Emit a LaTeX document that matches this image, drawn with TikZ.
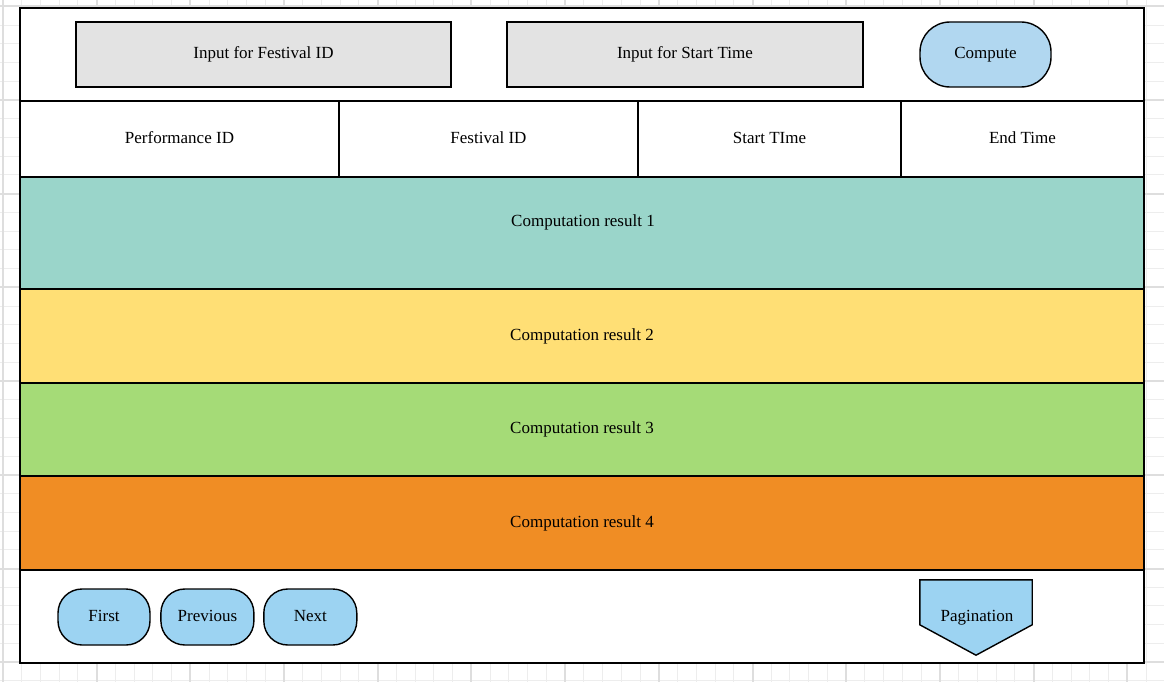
\documentclass[tikz,border=0pt]{standalone}
\usepackage{fontspec}
\setmainfont{Liberation Serif}
\usetikzlibrary{calc, positioning}
\definecolor{gridMinor}{HTML}{EDEDED}
\definecolor{gridMajor}{HTML}{DEDEDE}
\definecolor{inputGray}{HTML}{E3E3E3}
\definecolor{computeBlue}{HTML}{B1D7F0}
\definecolor{buttonBlue}{HTML}{9CD3F2}
\definecolor{rowTeal}{HTML}{9AD5CA}
\definecolor{rowYellow}{HTML}{FFDF75}
\definecolor{rowGreen}{HTML}{A5DB77}
\definecolor{rowOrange}{HTML}{F08D24}

\begin{document}
\begin{tikzpicture}[x=1pt, y=-1pt,
    every node/.style={font=\fontsize{17}{20}\selectfont, inner sep=0pt, text height=11.5pt, text depth=3pt},
    box/.style={draw, line width=1.6pt, rectangle},
    pill/.style={draw, line width=1.4pt, rounded corners=24pt}]
    \useasboundingbox (0,0) rectangle (1164,682);
    % background grid
    \foreach \i in {0,...,62}
        \draw[gridMinor, line width=1pt] ({2.9+18.74*\i},0) -- ({2.9+18.74*\i},682);
    \foreach \i in {0,...,36}
        \draw[gridMinor, line width=1pt] (0,{6.3+18.74*\i}) -- (1164,{6.3+18.74*\i});
    \foreach \i in {0,...,12}
        \draw[gridMajor, line width=2pt] ({2.9+93.7*\i},0) -- ({2.9+93.7*\i},682);
    \foreach \i in {0,...,7}
        \draw[gridMajor, line width=2pt] (0,{6.3+93.7*\i}) -- (1164,{6.3+93.7*\i});

    % frame
    \node[box, fill=white, minimum width=1124pt, minimum height=655pt] (frame) at (582,335.5) {};

    % input bar
    \node[box, minimum width=1124pt, minimum height=93pt] (topbar) at (582,54.5) {};
    \node[box, fill=inputGray, minimum width=375pt, minimum height=65pt] (festIn) at (263.5,54.5) {Input for Festival ID};
    \node[box, fill=inputGray, minimum width=356pt, minimum height=65pt] (startIn) at (685,54.5) {Input for Start Time};
    \node[pill, fill=computeBlue, rounded corners=30pt, minimum width=131pt, minimum height=65pt] (compute) at (985.5,54.5) {Compute};

    % header row
    \node[box, minimum width=319pt, minimum height=76pt] (hdPerf) at (179.5,139) {Performance ID};
    \node[box, minimum width=299pt, minimum height=76pt] (hdFest) at (488.5,139) {Festival ID};
    \node[box, minimum width=263pt, minimum height=76pt] (hdStart) at (769.5,139) {Start TIme};
    \node[box, minimum width=243pt, minimum height=76pt] (hdEnd) at (1022.5,139) {End Time};

    % result rows
    \node[box, fill=rowTeal, minimum width=1124pt, minimum height=112pt] (res1) at (582,233) {};
    \node (res1txt) at (583,222) {Computation result 1};
    \node[box, fill=rowYellow, minimum width=1124pt, minimum height=94pt] (res2) at (582,336) {Computation result 2};
    \node[box, fill=rowGreen, minimum width=1124pt, minimum height=93pt] (res3) at (582,429.5) {Computation result 3};
    \node[box, fill=rowOrange, minimum width=1124pt, minimum height=94pt] (res4) at (582,523) {Computation result 4};

    % pagination bar
    \node[pill, fill=buttonBlue, minimum width=92pt, minimum height=56pt] (first) at (104,617) {First};
    \node[pill, fill=buttonBlue, minimum width=93pt, minimum height=56pt, right=9.5pt of first] (prev) {Previous};
    \node[pill, fill=buttonBlue, minimum width=93pt, minimum height=56pt, right=8.5pt of prev] (next) {Next};
    \node[minimum width=112pt, minimum height=75pt] (pagin) at (976,617.5) {};
    \draw[line width=1.4pt, fill=buttonBlue] (pagin.north west) -- (pagin.north east)
        -- ($(pagin.north east)+(0,45)$) -- (pagin.south) -- ($(pagin.north west)+(0,45)$) -- cycle;
    \node (pagintxt) at (977,617) {Pagination};
\end{tikzpicture}
\end{document}
